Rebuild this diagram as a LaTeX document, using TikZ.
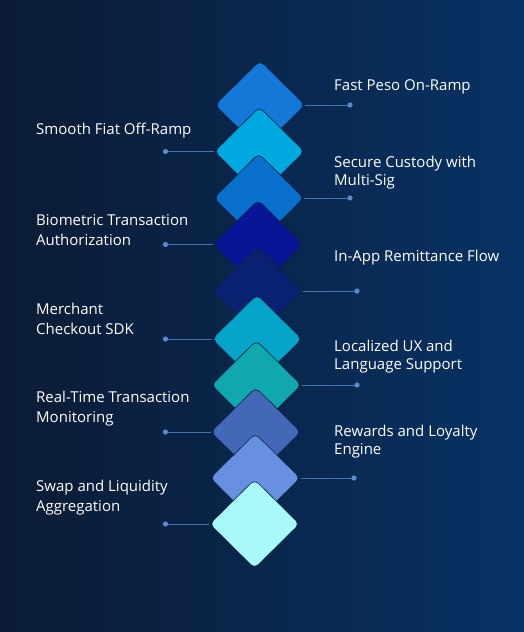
\documentclass[tikz,border=0pt]{standalone}
\usepackage{fontspec}
\setmainfont{Open Sans}
\usetikzlibrary{shapes.geometric}

\definecolor{bgleft}{RGB}{11,27,52}
\definecolor{bgright}{RGB}{8,50,100}
\definecolor{edgec}{RGB}{10,35,70}
\definecolor{linkc}{RGB}{70,115,175}
\definecolor{dotc}{RGB}{90,140,205}
\definecolor{cA}{RGB}{20,120,216}
\definecolor{cB}{RGB}{0,168,224}
\definecolor{cC}{RGB}{8,112,204}
\definecolor{cD}{RGB}{10,20,150}
\definecolor{cE}{RGB}{10,32,112}
\definecolor{cF}{RGB}{6,164,200}
\definecolor{cG}{RGB}{16,168,172}
\definecolor{cH}{RGB}{68,104,184}
\definecolor{cI}{RGB}{104,144,224}
\definecolor{cJ}{RGB}{168,248,252}

\tikzset{
  tile/.style={diamond, minimum width=90pt, minimum height=89pt, inner sep=0pt,
    rounded corners=5pt, draw=edgec, line width=0.6pt, fill=#1},
  link/.style={draw=linkc, line width=0.9pt},
  rlabel/.style={anchor=west, inner sep=0pt, align=left, text=white,
    font=\fontsize{15}{18}\selectfont},
  llabel/.style={anchor=west, inner sep=0pt, align=left, text=white,
    font=\fontsize{15}{20}\selectfont},
}

\begin{document}
\begin{tikzpicture}[x=1pt, y=-1pt]
  % Background
  \useasboundingbox (0,0) rectangle (524,632);
  \shade[left color=bgleft, right color=bgright] (0,0) rectangle (524,632);

  % Stacked tiles
  \node[tile=cA] (d1) at (260.0,105.0) {};
  \node[tile=cB] (d2) at (259.4,151.5) {};
  \node[tile=cC] (d3) at (258.8,198.0) {};
  \node[tile=cD] (d4) at (258.2,244.5) {};
  \node[tile=cE] (d5) at (257.6,291.0) {};
  \node[tile=cF] (d6) at (257.0,339.0) {};
  \node[tile=cG] (d7) at (256.4,385.0) {};
  \node[tile=cH] (d8) at (255.8,432.0) {};
  \node[tile=cI] (d9) at (255.2,478.0) {};
  \node[tile=cJ] (d10) at (254.6,524.0) {};

  % Line ends
  \coordinate (p1) at (350,105);
  \coordinate (p2) at (165.5,151.5);
  \coordinate (p3) at (350,198);
  \coordinate (p4) at (165.5,244.5);
  \coordinate (p5) at (357,291);
  \coordinate (p6) at (165.5,339);
  \coordinate (p7) at (357,385);
  \coordinate (p8) at (165.5,432);
  \coordinate (p9) at (354,478);
  \coordinate (p10) at (165.5,524);

  \draw[link] (d1.east) -- (p1);
  \draw[link] (p2) -- (d2.west);
  \draw[link] (d3.east) -- (p3);
  \draw[link] (p4) -- (d4.west);
  \draw[link] (d5.east) -- (p5);
  \draw[link] (p6) -- (d6.west);
  \draw[link] (d7.east) -- (p7);
  \draw[link] (p8) -- (d8.west);
  \draw[link] (d9.east) -- (p9);
  \draw[link] (p10) -- (d10.west);

  \fill[dotc] (p1) circle (2.6pt);
  \fill[dotc] (p2) circle (2.6pt);
  \fill[dotc] (p3) circle (2.6pt);
  \fill[dotc] (p4) circle (2.6pt);
  \fill[dotc] (p5) circle (2.6pt);
  \fill[dotc] (p6) circle (2.6pt);
  \fill[dotc] (p7) circle (2.6pt);
  \fill[dotc] (p8) circle (2.6pt);
  \fill[dotc] (p9) circle (2.6pt);
  \fill[dotc] (p10) circle (2.6pt);

  % Labels
  \node[rlabel] (t1) at (334,87) {Fast Peso On-Ramp};
  \node[llabel] (t2) at (36,131) {Smooth Fiat Off-Ramp};
  \node[rlabel] (t3) at (334,172.5) {Secure Custody with\\Multi-Sig};
  \node[llabel] (t4) at (36,230) {Biometric Transaction\\Authorization};
  \node[rlabel] (t5) at (334,258) {In-App Remittance Flow};
  \node[llabel] (t6) at (36,319) {Merchant\\Checkout SDK};
  \node[rlabel] (t7) at (334,356.5) {Localized UX and\\Language Support};
  \node[llabel] (t8) at (36,409) {Real-Time Transaction\\Monitoring};
  \node[rlabel] (t9) at (334,441.5) {Rewards and Loyalty\\Engine};
  \node[llabel] (t10) at (36,498) {Swap and Liquidity\\Aggregation};
\end{tikzpicture}
\end{document}
